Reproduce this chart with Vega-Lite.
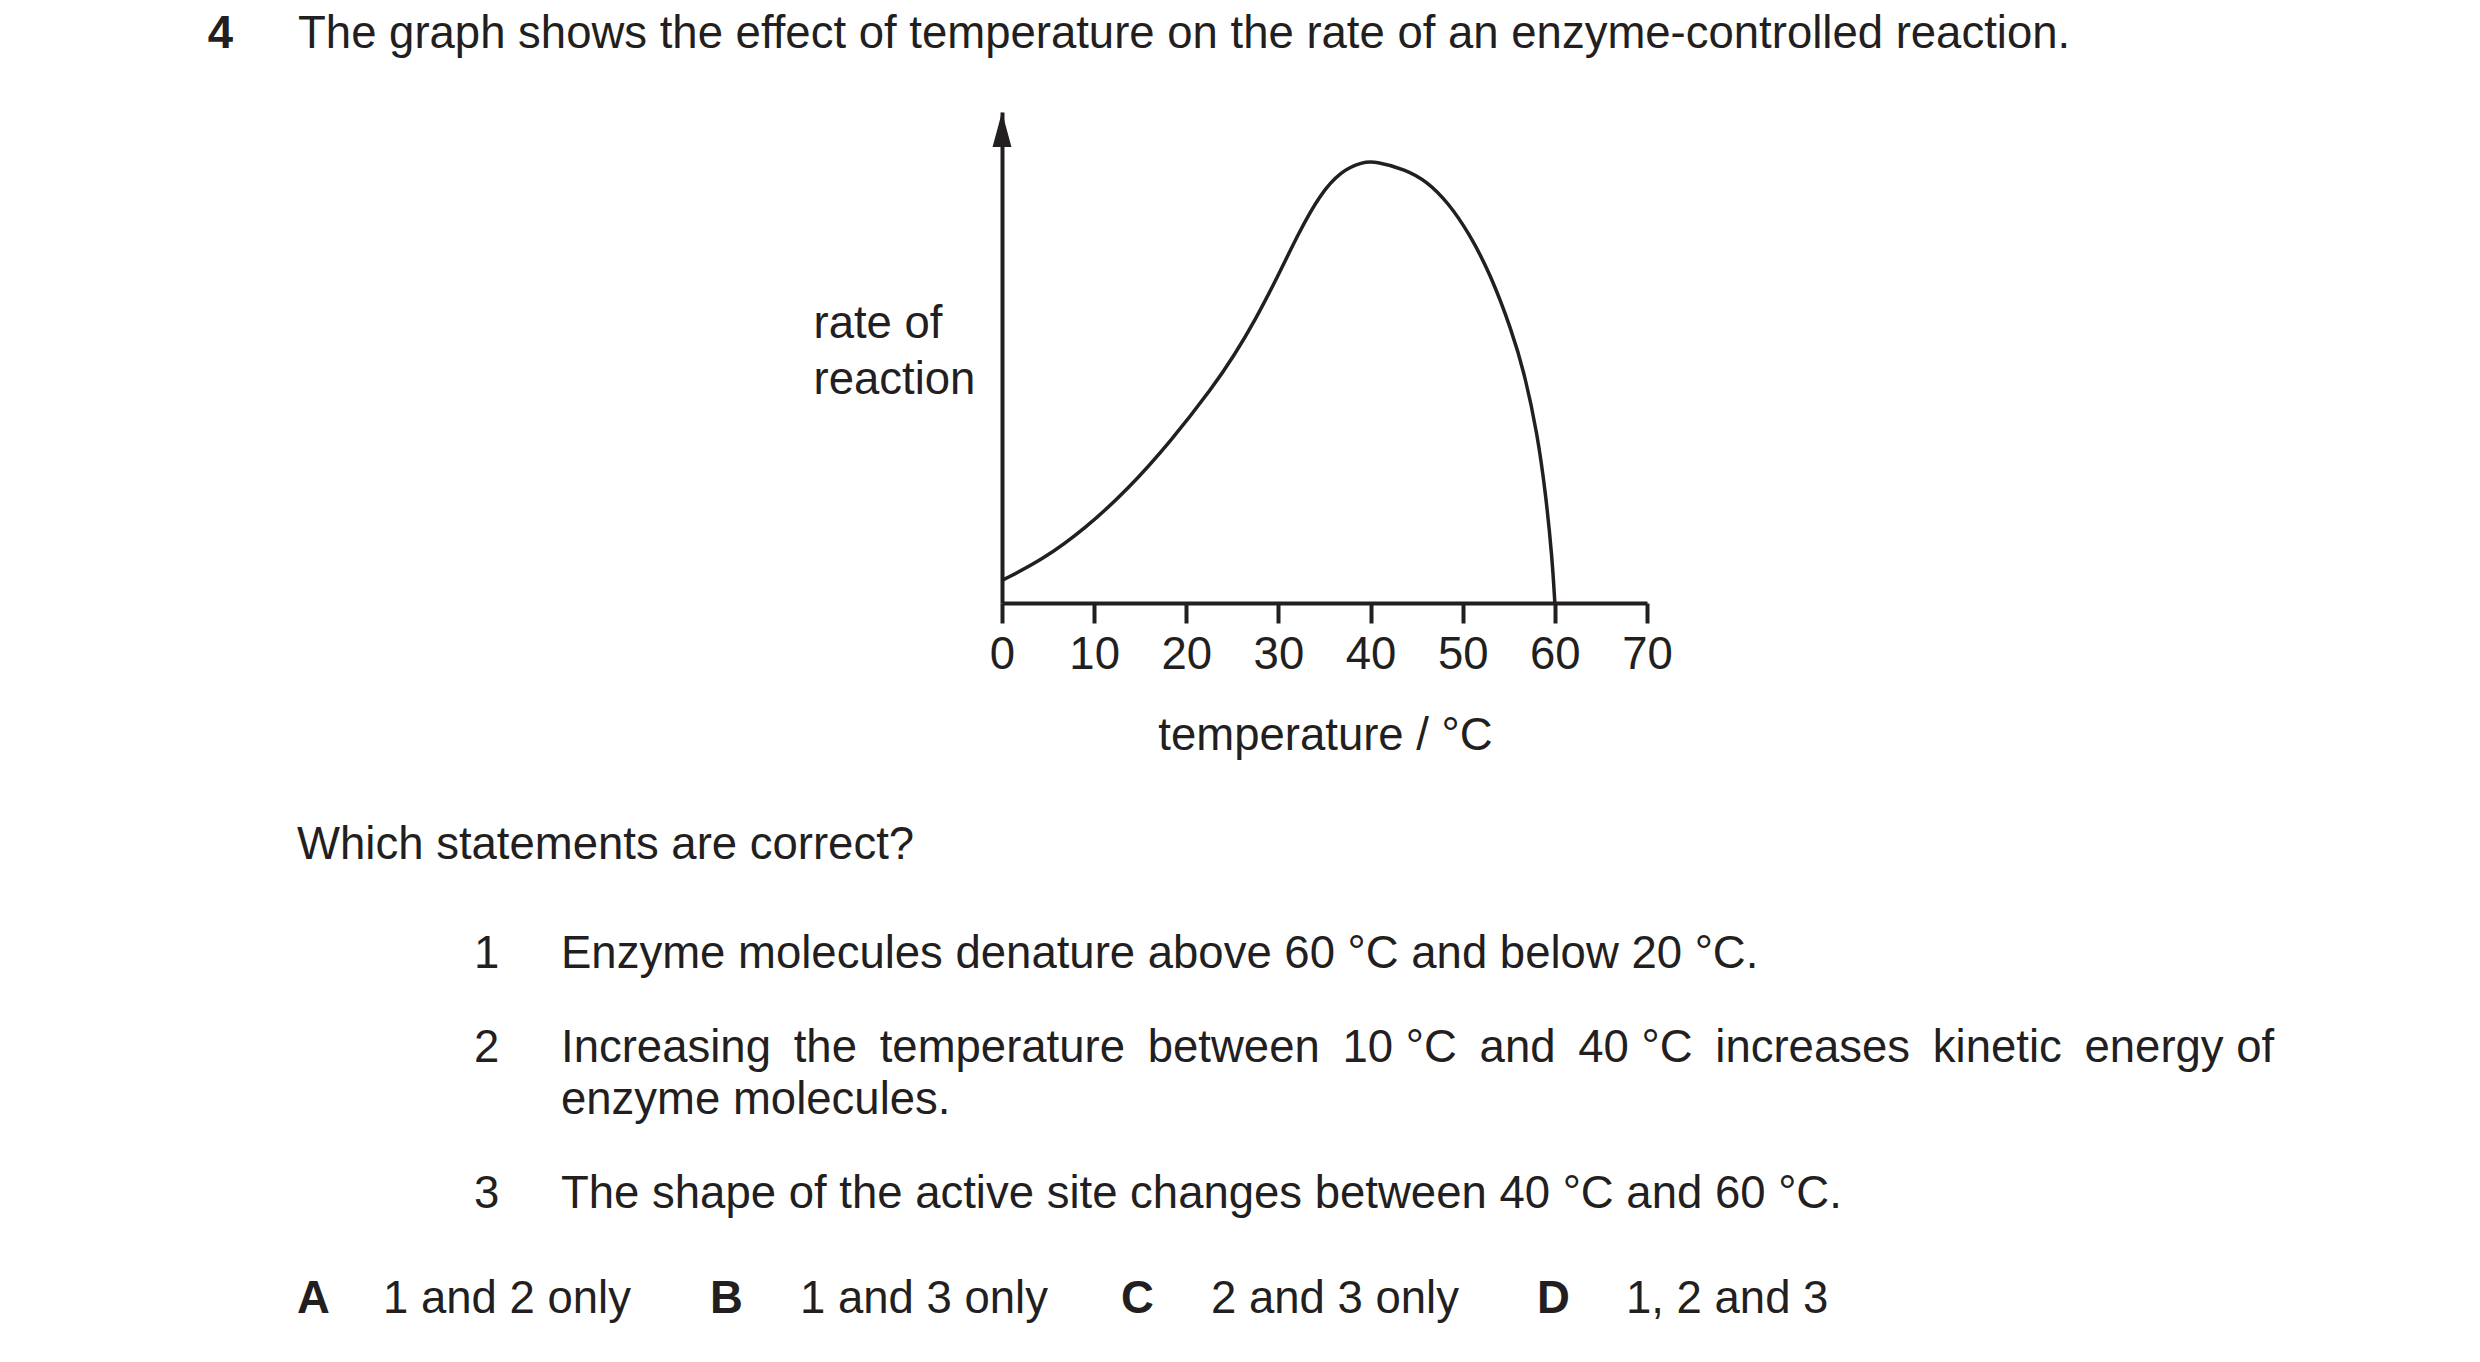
{
  "$schema": "https://vega.github.io/schema/vega-lite/v6.json",
  "description": "Question 4: effect of temperature on the rate of an enzyme-controlled reaction.",
  "width": 645,
  "height": 491,
  "autosize": {"type": "none"},
  "padding": {"left": 1002, "top": 112, "right": 833, "bottom": 759},
  "background": "white",
  "config": {
    "view": {"stroke": null},
    "font": "Liberation Sans",
    "text": {"font": "Liberation Sans", "fontSize": 45.5, "color": "#231f20", "align": "left", "baseline": "alphabetic"}
  },
  "datasets": {
    "curve": [
      {"temperature": 0, "rate": 4.6},
      {"temperature": 4.4, "rate": 8.8},
      {"temperature": 9.0, "rate": 15.1},
      {"temperature": 13.7, "rate": 23.2},
      {"temperature": 18.3, "rate": 32.9},
      {"temperature": 22.9, "rate": 44.0},
      {"temperature": 25.2, "rate": 50.4},
      {"temperature": 27.5, "rate": 57.7},
      {"temperature": 29.9, "rate": 66.4},
      {"temperature": 32.2, "rate": 75.4},
      {"temperature": 34.5, "rate": 83.2},
      {"temperature": 36.8, "rate": 88.0},
      {"temperature": 39.1, "rate": 89.8},
      {"temperature": 40.5, "rate": 90.0},
      {"temperature": 43.8, "rate": 88.3},
      {"temperature": 46.1, "rate": 85.9},
      {"temperature": 48.4, "rate": 81.6},
      {"temperature": 50.7, "rate": 75.3},
      {"temperature": 53.0, "rate": 67.0},
      {"temperature": 55.3, "rate": 55.6},
      {"temperature": 56.7, "rate": 46.8},
      {"temperature": 58.1, "rate": 34.5},
      {"temperature": 59.0, "rate": 22.3},
      {"temperature": 59.7, "rate": 9.4},
      {"temperature": 60.0, "rate": 0}
    ]
  },
  "layer": [
    {
      "data": {"name": "curve"},
      "mark": {"type": "line", "interpolate": "basis", "color": "#231f20", "strokeWidth": 3.5},
      "encoding": {
        "x": {
          "field": "temperature",
          "type": "quantitative",
          "scale": {"domain": [0, 70], "nice": false, "zero": false},
          "axis": {
            "values": [0, 10, 20, 30, 40, 50, 60, 70],
            "title": "temperature / °C",
            "grid": false,
            "domainColor": "#231f20",
            "domainWidth": 4,
            "tickColor": "#231f20",
            "tickWidth": 4,
            "tickSize": 20,
            "labelPadding": 9,
            "labelFont": "Liberation Sans",
            "labelFontSize": 45.5,
            "labelColor": "#231f20",
            "labelFlush": false,
            "labelOverlap": false,
            "titleFont": "Liberation Sans",
            "titleFontSize": 45.5,
            "titleFontWeight": "normal",
            "titleColor": "#231f20",
            "titleAlign": "center",
            "titleBaseline": "alphabetic",
            "titleX": 323,
            "titleY": 146
          }
        },
        "y": {
          "field": "rate",
          "type": "quantitative",
          "scale": {"domain": [0, 100], "nice": false},
          "axis": {
            "title": ["rate of", "reaction"],
            "ticks": false,
            "labels": false,
            "grid": false,
            "domainColor": "#231f20",
            "domainWidth": 4,
            "titleFont": "Liberation Sans",
            "titleFontSize": 45.5,
            "titleFontWeight": "normal",
            "titleColor": "#231f20",
            "titleAngle": 0,
            "titleAlign": "left",
            "titleBaseline": "alphabetic",
            "titleLineHeight": 56,
            "titleX": -189,
            "titleY": 225
          }
        }
      }
    },
    {
      "data": {"values": [{"marker": "axis arrow"}]},
      "mark": {"type": "point", "shape": "M0,0L0.54,2L-0.54,2Z", "filled": true, "size": 1225, "color": "#231f20", "opacity": 1},
      "encoding": {
        "x": {"datum": 0, "type": "quantitative"},
        "y": {"datum": 100, "type": "quantitative"}
      }
    },
    {
      "data": {"values": [{"label": "4"}]},
      "mark": {"type": "text", "fontWeight": "bold"},
      "encoding": {"x": {"datum": -86.2, "type": "quantitative"}, "y": {"datum": 113.03, "type": "quantitative"}, "text": {"field": "label"}}
    },
    {
      "data": {"values": [{"label": "The graph shows the effect of temperature on the rate of an enzyme-controlled reaction."}]},
      "mark": {"type": "text"},
      "encoding": {"x": {"datum": -76.4, "type": "quantitative"}, "y": {"datum": 113.03, "type": "quantitative"}, "text": {"field": "label"}}
    },
    {
      "data": {"values": [{"label": "Which statements are correct?"}]},
      "mark": {"type": "text"},
      "encoding": {"x": {"datum": -76.5, "type": "quantitative"}, "y": {"datum": -52.14, "type": "quantitative"}, "text": {"field": "label"}}
    },
    {
      "data": {"values": [{"label": "1"}]},
      "mark": {"type": "text"},
      "encoding": {"x": {"datum": -57.3, "type": "quantitative"}, "y": {"datum": -74.35, "type": "quantitative"}, "text": {"field": "label"}}
    },
    {
      "data": {"values": [{"label": "Enzyme molecules denature above 60 °C and below 20 °C."}]},
      "mark": {"type": "text"},
      "encoding": {"x": {"datum": -47.86, "type": "quantitative"}, "y": {"datum": -74.35, "type": "quantitative"}, "text": {"field": "label"}}
    },
    {
      "data": {"values": [{"label": "2"}]},
      "mark": {"type": "text"},
      "encoding": {"x": {"datum": -57.3, "type": "quantitative"}, "y": {"datum": -93.49, "type": "quantitative"}, "text": {"field": "label"}}
    },
    {
      "data": {"values": [{"label": "Increasing\u2002the\u2002temperature\u2002between\u200210 °C\u2002and\u200240 °C\u2002increases\u2002kinetic\u2002energy of"}]},
      "mark": {"type": "text"},
      "encoding": {"x": {"datum": -47.86, "type": "quantitative"}, "y": {"datum": -93.49, "type": "quantitative"}, "text": {"field": "label"}}
    },
    {
      "data": {"values": [{"label": "enzyme molecules."}]},
      "mark": {"type": "text"},
      "encoding": {"x": {"datum": -47.86, "type": "quantitative"}, "y": {"datum": -104.09, "type": "quantitative"}, "text": {"field": "label"}}
    },
    {
      "data": {"values": [{"label": "3"}]},
      "mark": {"type": "text"},
      "encoding": {"x": {"datum": -57.3, "type": "quantitative"}, "y": {"datum": -123.23, "type": "quantitative"}, "text": {"field": "label"}}
    },
    {
      "data": {"values": [{"label": "The shape of the active site changes between 40 °C and 60 °C."}]},
      "mark": {"type": "text"},
      "encoding": {"x": {"datum": -47.86, "type": "quantitative"}, "y": {"datum": -123.23, "type": "quantitative"}, "text": {"field": "label"}}
    },
    {
      "data": {"values": [{"label": "A"}]},
      "mark": {"type": "text", "fontWeight": "bold"},
      "encoding": {"x": {"datum": -76.5, "type": "quantitative"}, "y": {"datum": -144.62, "type": "quantitative"}, "text": {"field": "label"}}
    },
    {
      "data": {"values": [{"label": "1 and 2 only"}]},
      "mark": {"type": "text"},
      "encoding": {"x": {"datum": -67.18, "type": "quantitative"}, "y": {"datum": -144.62, "type": "quantitative"}, "text": {"field": "label"}}
    },
    {
      "data": {"values": [{"label": "B"}]},
      "mark": {"type": "text", "fontWeight": "bold"},
      "encoding": {"x": {"datum": -31.69, "type": "quantitative"}, "y": {"datum": -144.62, "type": "quantitative"}, "text": {"field": "label"}}
    },
    {
      "data": {"values": [{"label": "1 and 3 only"}]},
      "mark": {"type": "text"},
      "encoding": {"x": {"datum": -21.92, "type": "quantitative"}, "y": {"datum": -144.62, "type": "quantitative"}, "text": {"field": "label"}}
    },
    {
      "data": {"values": [{"label": "C"}]},
      "mark": {"type": "text", "fontWeight": "bold"},
      "encoding": {"x": {"datum": 12.92, "type": "quantitative"}, "y": {"datum": -144.62, "type": "quantitative"}, "text": {"field": "label"}}
    },
    {
      "data": {"values": [{"label": "2 and 3 only"}]},
      "mark": {"type": "text"},
      "encoding": {"x": {"datum": 22.68, "type": "quantitative"}, "y": {"datum": -144.62, "type": "quantitative"}, "text": {"field": "label"}}
    },
    {
      "data": {"values": [{"label": "D"}]},
      "mark": {"type": "text", "fontWeight": "bold"},
      "encoding": {"x": {"datum": 58.06, "type": "quantitative"}, "y": {"datum": -144.62, "type": "quantitative"}, "text": {"field": "label"}}
    },
    {
      "data": {"values": [{"label": "1, 2 and 3"}]},
      "mark": {"type": "text"},
      "encoding": {"x": {"datum": 67.72, "type": "quantitative"}, "y": {"datum": -144.62, "type": "quantitative"}, "text": {"field": "label"}}
    }
  ]
}
